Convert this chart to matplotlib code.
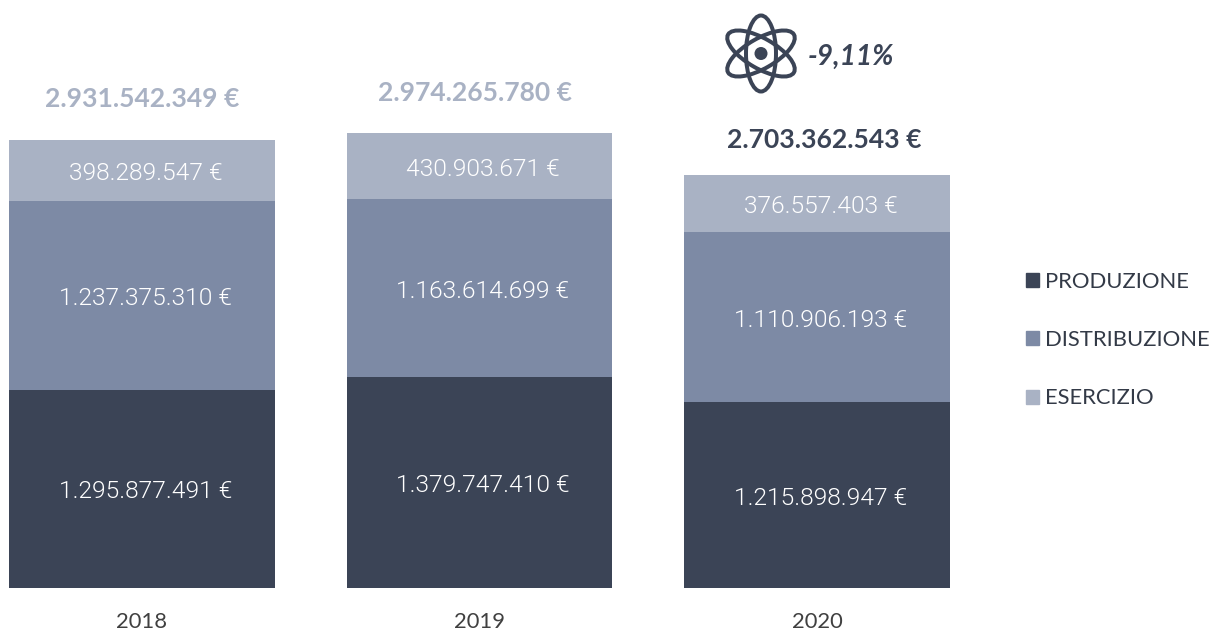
import matplotlib
matplotlib.use("Agg")
import matplotlib.pyplot as plt
from matplotlib.patches import Ellipse, Circle, Patch

years = ["2018", "2019", "2020"]
produzione = [1295877491, 1379747410, 1215898947]
distribuzione = [1237375310, 1163614699, 1110906193]
esercizio = [398289547, 430903671, 376557403]
totali = [2931542349, 2974265780, 2703362543]
variazione = "-9,11%"

DARK, MID, LIGHT = "#3B4456", "#7D8AA5", "#A9B2C4"
plt.rcParams["font.family"] = ["Lato", "DejaVu Sans"]
W, H = 1209, 630
px = 0.72

def euro(v):
    return f"{v:,}".replace(",", ".") + " €"

fig = plt.figure(figsize=(W / 100, H / 100), dpi=100)
ax = fig.add_axes([0, (H - 588) / H, 986 / W, 588 / H])
ax.set_xlim((0 - 142) / 337.5, (986 - 142) / 337.5)
ax.set_ylim(0, 588 / 0.15283e-6)
for s in ax.spines.values():
    s.set_visible(False)
ax.patch.set_alpha(0)
ax.set_yticks([])
ax.set_xticks(range(3))
ax.set_xticklabels(years, fontsize=22 * px, color="#404040")
ax.tick_params(axis="x", length=0, pad=17)

bottom = [0, 0, 0]
for vals, col, name in [(produzione, DARK, "PRODUZIONE"), (distribuzione, MID, "DISTRIBUZIONE"), (esercizio, LIGHT, "ESERCIZIO")]:
    ax.bar(range(3), vals, 0.788, bottom=bottom, color=col, label=name)
    for i, v in enumerate(vals):
        ax.annotate(euro(v), (i, bottom[i] + v / 2), xytext=(3.5, -3), textcoords="offset pixels",
                    ha="center", va="center", color="white", fontsize=24.5 * px,
                    family=["Roboto", "DejaVu Sans"], fontweight=300)
    bottom = [b + v for b, v in zip(bottom, vals)]

dx = [0, -4, 7]
offs = [41, 40, 35]
for i, t in enumerate(totali):
    ax.annotate(euro(t), (i, t), xytext=(dx[i], offs[i]), textcoords="offset pixels",
                ha="center", va="center", fontsize=26.5 * px, fontweight="bold",
                color=DARK if i == 2 else LIGHT)

handles = [Patch(color=c, label=n) for c, n in [(DARK, "PRODUZIONE"), (MID, "DISTRIBUZIONE"), (LIGHT, "ESERCIZIO")]]
leg = fig.legend(handles=handles, loc="center left", bbox_to_anchor=(1026 / W, 1 - 340 / H), frameon=False,
                 fontsize=22 * px, labelcolor="#333A47", handlelength=0.6, handleheight=0.6,
                 handletextpad=0.28, labelspacing=1.75, borderpad=0, borderaxespad=0)

ov = fig.add_axes([0, 0, 1, 1])
ov.set_xlim(0, W)
ov.set_ylim(H, 0)
ov.axis("off")
ov.patch.set_alpha(0)
cx, cy = 761, 53.5
for ang in (0, 60, -60):
    ov.add_patch(Ellipse((cx, cy), 30, 76, angle=ang, fill=False, ec=DARK, lw=4 * px))
ov.add_patch(Circle((cx, cy), 6.5, fc=DARK, ec="none"))
ov.text(850.5, 57, variazione, ha="center", va="center", fontsize=28 * px,
        fontstyle="italic", fontweight="bold", color=DARK)

fig.savefig("out.png", dpi=100)
